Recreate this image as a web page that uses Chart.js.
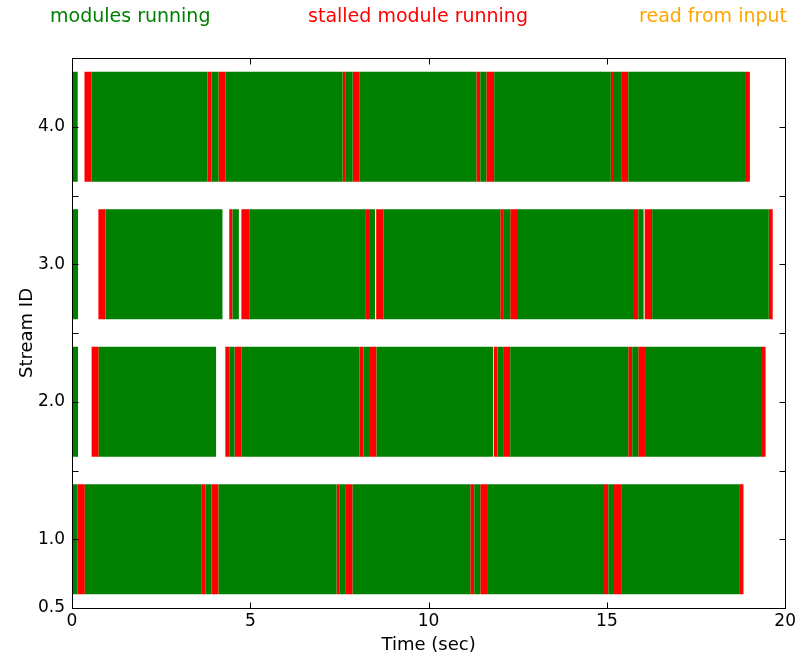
<!DOCTYPE html>
<html><head><meta charset="utf-8">
<script src="https://cdn.jsdelivr.net/npm/chart.js@4.4.0/dist/chart.umd.min.js"></script>
<style>html,body{margin:0;padding:0;background:#fff}</style>
</head><body>
<canvas id="c" width="799" height="656"></canvas>
<script>
const streamIds = [1, 2, 3, 4];

// green segments: "modules running" [start, end] in seconds
const running1 = [[0,0.15],[0.36,3.64],[3.75,3.91],[4.11,7.42],[7.51,7.66],[7.87,11.17],[11.28,11.45],[11.64,14.92],[15.04,15.20],[15.40,18.73]];
const running2 = [[0,0.17],[0.75,4.04],[4.41,4.56],[4.76,8.06],[8.17,8.33],[8.54,11.81],[11.93,12.09],[12.29,15.60],[15.71,15.88],[16.07,19.35]];
const running3 = [[0,0.17],[0.94,4.22],[4.50,4.68],[4.97,8.22],[8.33,8.50],[8.73,12.01],[12.09,12.29],[12.48,15.76],[15.88,16.03],[16.27,19.54]];
const running4 = [[0,0.16],[0.55,3.80],[3.91,4.11],[4.30,7.59],[7.66,7.87],[8.07,11.34],[11.45,11.62],[11.84,15.11],[15.20,15.40],[15.60,18.90]];

// red segments: "stalled module running"
const stalled1 = [[0.15,0.36],[3.64,3.75],[3.91,4.11],[7.42,7.51],[7.66,7.87],[11.17,11.28],[11.45,11.64],[14.92,15.04],[15.20,15.40],[18.73,18.83]];
const stalled2 = [[0.55,0.75],[4.30,4.41],[4.56,4.76],[8.06,8.17],[8.33,8.54],[11.83,11.93],[12.09,12.29],[15.60,15.71],[15.88,16.07],[19.35,19.45]];
const stalled3 = [[0.74,0.94],[4.41,4.50],[4.75,4.97],[8.22,8.33],[8.53,8.73],[12.01,12.09],[12.29,12.48],[15.76,15.88],[16.06,16.27],[19.54,19.65]];
const stalled4 = [[0.35,0.55],[3.80,3.91],[4.11,4.30],[7.59,7.66],[7.87,8.07],[11.34,11.45],[11.62,11.84],[15.11,15.20],[15.40,15.60],[18.90,19.01]];

// orange segments: "read from input" (none visible)
const reading1 = [], reading2 = [], reading3 = [], reading4 = [];

const xTickValues = [0, 5, 10, 15, 20];
const yTickValues = [0.5, 1, 1.5, 2, 2.5, 3, 3.5, 4, 4.5];
const yTickLabels = {0.5: '0.5', 1: '1.0', 2: '2.0', 3: '3.0', 4: '4.0'};
const seriesNames = ['modules running', 'stalled module running', 'read from input'];
const seriesColors = ['#008000', '#ff0000', '#ffa500'];

function toPoints(rows) {
  const pts = [];
  rows.forEach((segs, i) => segs.forEach(s => pts.push({x: [s[0], s[1]], y: streamIds[i]})));
  return pts;
}

const runningData = toPoints([running1, running2, running3, running4]);
const stalledData = toPoints([stalled1, stalled2, stalled3, stalled4]);
const readingData = toPoints([reading1, reading2, reading3, reading4]);

const FONT = '"DejaVu Sans", sans-serif';

const framePlugin = {
  id: 'frame',
  afterDraw(chart) {
    const {ctx, chartArea: a, scales: {x, y}} = chart;
    ctx.save();
    ctx.strokeStyle = '#000';
    ctx.lineWidth = 1;
    const L = Math.round(a.left) + 0.5, R = Math.round(a.right) + 0.5;
    const T = Math.round(a.top) + 0.5, B = Math.round(a.bottom) + 0.5;
    ctx.strokeRect(L, T, R - L, B - T);
    const len = 6;
    ctx.beginPath();
    xTickValues.forEach(v => {
      const px = Math.round(x.getPixelForValue(v)) + 0.5;
      ctx.moveTo(px, B); ctx.lineTo(px, B - len);
      ctx.moveTo(px, T); ctx.lineTo(px, T + len);
    });
    yTickValues.forEach(v => {
      const py = Math.round(y.getPixelForValue(v)) + 0.5;
      ctx.moveTo(L, py); ctx.lineTo(L + len, py);
      ctx.moveTo(R, py); ctx.lineTo(R - len, py);
    });
    ctx.stroke();
    // top labels
    ctx.font = '19px ' + FONT;
    ctx.textBaseline = 'middle';
    ctx.fillStyle = seriesColors[0]; ctx.textAlign = 'left';
    ctx.fillText(seriesNames[0], 50, 17);
    ctx.fillStyle = seriesColors[1]; ctx.textAlign = 'center';
    ctx.fillText(seriesNames[1], 418, 17);
    ctx.fillStyle = seriesColors[2]; ctx.textAlign = 'right';
    ctx.fillText(seriesNames[2], 787, 17);
    ctx.restore();
  }
};

new Chart(document.getElementById('c'), {
  type: 'bar',
  data: {
    datasets: [
      {label: seriesNames[0], data: runningData, backgroundColor: seriesColors[0], grouped: false, borderWidth: 0},
      {label: seriesNames[1], data: stalledData, backgroundColor: seriesColors[1], grouped: false, borderWidth: 0},
      {label: seriesNames[2], data: readingData, backgroundColor: seriesColors[2], grouped: false, borderWidth: 0}
    ]
  },
  options: {
    indexAxis: 'y',
    responsive: false,
    animation: false,
    barPercentage: 1.6,
    categoryPercentage: 1.0,
    layout: {padding: {top: 58, right: 13, left: 0, bottom: 0}},
    plugins: {legend: {display: false}, tooltip: {enabled: false}},
    scales: {
      x: {
        type: 'linear', min: 0, max: 20, position: 'bottom', offset: false,
        grid: {display: false, drawTicks: false}, border: {display: false},
        afterBuildTicks: s => { s.ticks = xTickValues.map(v => ({value: v})); },
        afterFit: s => { s.height = 48; },
        ticks: {color: '#000', font: {family: FONT, size: 17}, padding: 3, maxRotation: 0, autoSkip: false},
        title: {display: true, text: 'Time (sec)', color: '#000', font: {family: FONT, size: 18}, padding: {top: 0, bottom: 0}}
      },
      y: {
        type: 'linear', min: 0.5, max: 4.5, offset: false,
        grid: {display: false, drawTicks: false}, border: {display: false},
        afterBuildTicks: s => { s.ticks = yTickValues.map(v => ({value: v})); },
        afterFit: s => { s.width = 72; },
        ticks: {color: '#000', font: {family: FONT, size: 17}, padding: 7, autoSkip: false,
          callback: v => (yTickLabels[v] !== undefined ? yTickLabels[v] : '')},
        title: {display: true, text: 'Stream ID', color: '#000', font: {family: FONT, size: 18}, padding: {top: 17, bottom: 0}}
      }
    }
  },
  plugins: [framePlugin]
});
</script>
</body></html>
